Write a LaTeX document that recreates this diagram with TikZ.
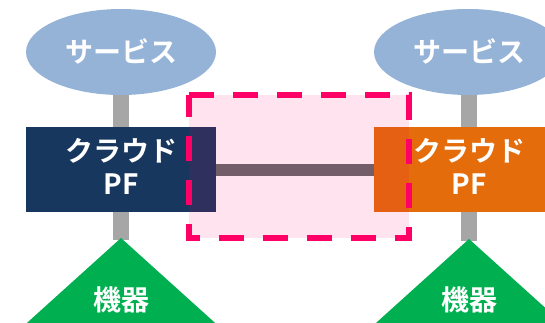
\documentclass[tikz,border=0pt]{standalone}
\usepackage{fontspec}
\usetikzlibrary{shapes.geometric}
\newfontfamily\jp{Noto Sans CJK JP}[BoldFont=* Bold]
\definecolor{svc}{RGB}{149,179,215}
\definecolor{navy}{RGB}{23,55,94}
\definecolor{orng}{RGB}{228,108,10}
\definecolor{grn}{RGB}{0,176,80}
\definecolor{conn}{RGB}{166,166,166}
\definecolor{barc}{RGB}{98,105,106}
\definecolor{hot}{RGB}{255,0,102}
\tikzset{
  lbl/.style={text=white,font=\jp\bfseries\fontsize{28}{30}\selectfont,inner sep=0pt},
  svcshape/.style={fill=svc,draw=none},
  boxshape/.style={draw=none},
  stem/.style={fill=conn,draw=none},
}
\begin{document}
\begin{tikzpicture}[x=1pt,y=-1pt]
\useasboundingbox (0,0) rectangle (545,322);
\clip (0,0) rectangle (545,322);
% stems
\fill[conn] (113,90) rectangle (129,130);
\fill[conn] (113,210) rectangle (129,240);
\fill[conn] (461,90) rectangle (477,130);
\fill[conn] (461,210) rectangle (477,241);
% services
\node[svcshape,ellipse,minimum width=190pt,minimum height=86pt,inner sep=0pt] (s1) at (121,52) {};
\node[svcshape,ellipse,minimum width=188pt,minimum height=86pt,inner sep=0pt] (s2) at (468,52) {};
% boxes
\fill[navy] (26,127) rectangle (216,212);
\coordinate (c1e) at (216,169.5);
\fill[orng] (374,127) rectangle (564,212);
\coordinate (c2w) at (374,169.5);
% bar
\draw[barc,line width=12pt] (c1e) -- (c2w);
% triangles
\fill[grn] (121,238) -- (8,340) -- (234,340) -- cycle;
\fill[grn] (469,239) -- (356,341) -- (582,341) -- cycle;
% labels
\node[lbl] at (121,51) {サービス};
\node[lbl] at (469,51) {サービス};
\node[lbl] at (121,150.5) {クラウド};
\node[lbl] at (121,184.5) {PF};
\node[lbl] at (469,150.5) {クラウド};
\node[lbl] at (469,184.5) {PF};
\node[lbl] at (121,299.5) {機器};
\node[lbl] at (469,300) {機器};
% overlay
\fill[hot,opacity=0.11] (188.5,95) rectangle (408.5,238);
\draw[hot,line width=6pt,dash pattern=on 25pt off 19pt] (188.5,95) -- (408.5,95) -- (408.5,238) -- (188.5,238) -- cycle;
\end{tikzpicture}
\end{document}
